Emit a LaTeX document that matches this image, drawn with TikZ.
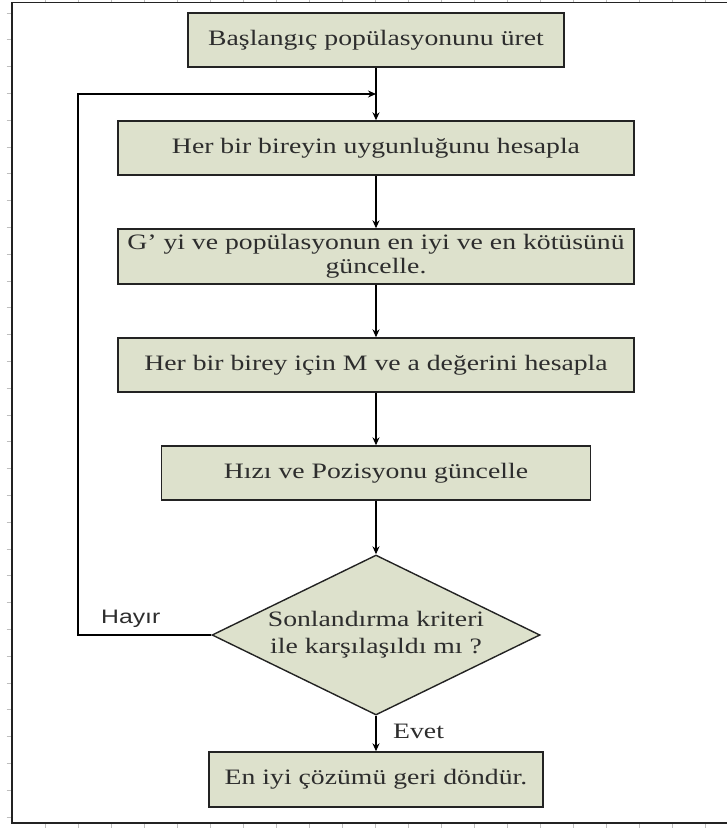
\documentclass[tikz,border=0pt]{standalone}
\usepackage{fontspec}
\setmainfont{Liberation Serif}[FakeStretch=1.26]
\newfontfamily\hayirfont{Liberation Sans}[FakeStretch=1.27]
\usetikzlibrary{shapes.geometric,arrows.meta}
\definecolor{boxfill}{RGB}{221,225,204}
\definecolor{txtgray}{RGB}{45,45,45}
\definecolor{framecol}{RGB}{35,35,35}
\definecolor{tickgray}{RGB}{190,190,190}
\tikzset{
  procbox/.style={draw=framecol, line width=1.4pt, fill=boxfill, text=txtgray,
    inner sep=0pt, align=center, font=\fontsize{22pt}{24pt}\selectfont},
  decbox/.style={diamond, draw=framecol, line width=1.4pt, fill=boxfill, text=txtgray,
    inner sep=0pt, aspect=2.05, align=center, minimum width=328pt, minimum height=160pt,
    font=\fontsize{22pt}{27pt}\selectfont},
  conn/.style={draw=black, line width=1.3pt},
  arr/.style={conn, -{Stealth[length=8pt,width=7pt]}},
  tickmark/.style={draw=tickgray, line width=0.8pt},
  framel/.style={draw=framecol, line width=1.7pt},
  lbl/.style={text=txtgray, inner sep=0pt}
}
\begin{document}
\begin{tikzpicture}[x=1pt,y=-1pt]
\useasboundingbox (0,0) rectangle (727,828);
% frame with ruler ticks
\foreach \k in {1,...,21} {
  \draw[tickmark] (12+33*\k,0) -- (12+33*\k,2.5);
  \draw[tickmark] (12+33*\k,824) -- (12+33*\k,828);
}
\foreach \k in {0,...,30} {
  \draw[tickmark] (6.5,13+26.8*\k) -- (11,13+26.8*\k);
}
\draw[framel] (730,2.5) -- (12,2.5) -- (12,823) -- (730,823);

% nodes
\node[procbox, minimum width=376pt, minimum height=54pt] (b1) at (376,40) {Başlangıç popülasyonunu üret};
\node[procbox, minimum width=516pt, minimum height=54pt] (b2) at (376,148) {Her bir bireyin uygunluğunu hesapla};
\node[procbox, minimum width=516pt, minimum height=55pt] (b3) at (376,256.5) {G’ yi ve popülasyonun en iyi ve en kötüsünü\\güncelle.};
\node[procbox, minimum width=516pt, minimum height=54pt] (b4) at (376,365) {Her bir birey için M ve a değerini hesapla};
\node[procbox, minimum width=429pt, minimum height=54pt] (b5) at (376,473) {Hızı ve Pozisyonu güncelle};
\node[decbox] (d) at (376,635) {Sonlandırma kriteri\\ile karşılaşıldı mı ?};
\node[procbox, minimum width=334pt, minimum height=55pt] (b6) at (376,779.5) {En iyi çözümü geri döndür.};

% labels
\node[lbl, anchor=base west, font=\hayirfont\fontsize{19.5pt}{22pt}\selectfont] (hayir) at (101,623) {Hayır};
\node[lbl, anchor=base west, font=\fontsize{22pt}{24pt}\selectfont] (evet) at (393,738) {Evet};

% connectors
\coordinate (fbl) at (78,94);
\coordinate (fbr) at (376,94);
\draw[arr] (b1) -- (b2);
\draw[arr] (b2) -- (b3);
\draw[arr] (b3) -- (b4);
\draw[arr] (b4) -- (b5);
\draw[arr] (b5) -- (d);
\draw[arr] (d) -- (b6);
\draw[arr] (d.west) -| (fbl) -- (fbr);
\end{tikzpicture}
\end{document}
